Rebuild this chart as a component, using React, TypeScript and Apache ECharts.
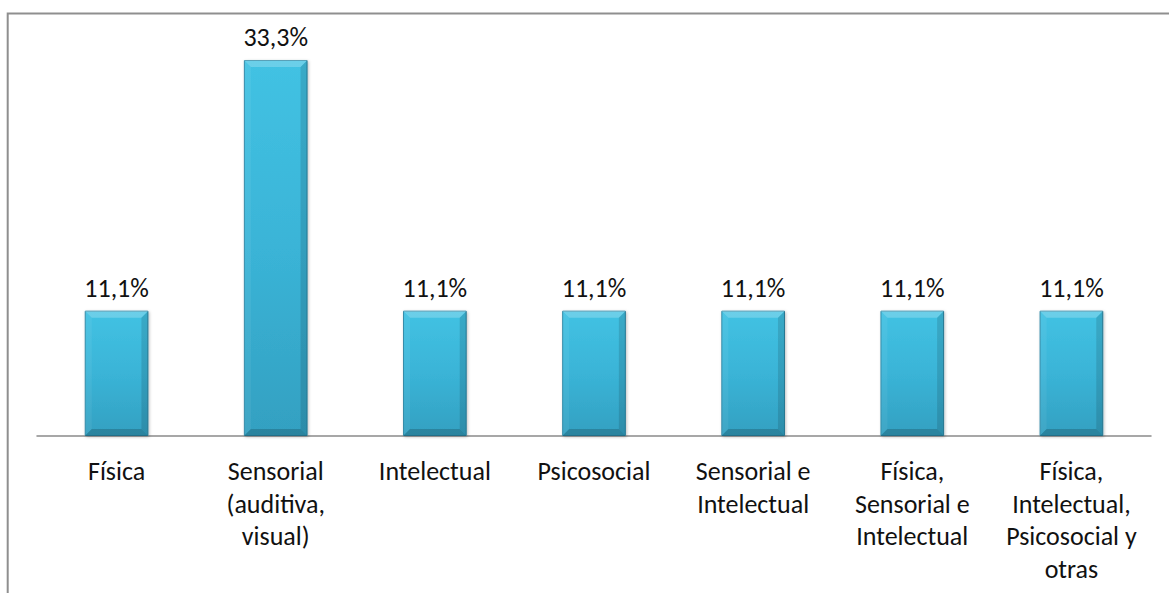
import React, { useEffect, useRef } from "react";
import * as echarts from "echarts";

const categories = [
  "Física",
  "Sensorial\n(auditiva,\nvisual)",
  "Intelectual",
  "Psicosocial",
  "Sensorial e\nIntelectual",
  "Física,\nSensorial e\nIntelectual",
  "Física,\nIntelectual,\nPsicosocial y\notras",
];
const values = [11.1, 33.3, 11.1, 11.1, 11.1, 11.1, 11.1];

const FONT = "Carlito, Calibri, Lato, 'Open Sans', sans-serif";

export default function App() {
  const ref = useRef<HTMLDivElement>(null);
  useEffect(() => {
    if (!ref.current) return;
    const chart = echarts.init(ref.current, null, { renderer: "svg" });
    chart.setOption({
      animation: false,
      backgroundColor: "#ffffff",
      textStyle: { fontFamily: FONT },
      graphic: [
        {
          type: "rect",
          shape: { x: 7.7, y: 13.5, width: 2000, height: 2000 },
          style: { fill: "none", stroke: "#8f8f8f", lineWidth: 2 },
          silent: true,
          z: 0,
        },
      ],
      grid: { left: 37, right: 18, top: 40.8, bottom: 157, containLabel: false },
      xAxis: {
        type: "category",
        data: categories,
        axisLine: { show: true, lineStyle: { color: "#8a8a8a", width: 1.5 } },
        axisTick: { show: false },
        axisLabel: {
          interval: 0,
          margin: 19,
          fontSize: 26,
          lineHeight: 32.5,
          color: "#111111",
          fontFamily: FONT,
          align: "center",
          verticalAlign: "top",
        },
      },
      yAxis: {
        type: "value",
        min: 0,
        max: 35,
        show: false,
        splitLine: { show: false },
      },
      series: [
        {
          type: "bar",
          data: values,
          barWidth: "40%",
          z: 2,
          itemStyle: {
            color: {
              type: "linear",
              x: 0,
              y: 0,
              x2: 0,
              y2: 1,
              colorStops: [
                { offset: 0, color: "#42c2e3" },
                { offset: 0.5, color: "#3ab4d7" },
                { offset: 1, color: "#33a0c1" },
              ],
            },
            borderColor: "#2b87a5",
            borderWidth: 1,
            shadowColor: "rgba(0,0,0,0.25)",
            shadowBlur: 3,
            shadowOffsetX: 1,
            shadowOffsetY: 1,
          },
          label: {
            show: true,
            position: "top",
            distance: 8,
            fontSize: 26,
            lineHeight: 30,
            color: "#111111",
            fontFamily: FONT,
            formatter: (p: any) => p.value.toFixed(1).replace(".", ",") + "%",
          },
        },
        {
          type: "custom",
          silent: true,
          z: 3,
          data: values.map((v, i) => [i, v]),
          renderItem: (params: any, api: any) => {
            const top = api.coord([api.value(0), api.value(1)]);
            const base = api.coord([api.value(0), 0]);
            const w = api.size([1, 0])[0] * 0.4;
            const l = top[0] - w / 2;
            const r = top[0] + w / 2;
            const t = top[1];
            const b = base[1];
            const e = 7;
            return {
              type: "group",
              children: [
                {
                  type: "polygon",
                  shape: { points: [[l, t], [r, t], [r - e, t + e], [l + e, t + e]] },
                  style: { fill: "rgba(255,255,255,0.22)" },
                },
                {
                  type: "polygon",
                  shape: { points: [[l, t], [l + e, t + e], [l + e, b - e], [l, b]] },
                  style: { fill: "rgba(255,255,255,0.06)" },
                },
                {
                  type: "polygon",
                  shape: { points: [[r, t], [r, b], [r - e, b - e], [r - e, t + e]] },
                  style: { fill: "rgba(0,0,0,0.12)" },
                },
                {
                  type: "polygon",
                  shape: { points: [[l, b], [r, b], [r - e, b - e], [l + e, b - e]] },
                  style: { fill: "rgba(0,0,0,0.18)" },
                },
              ],
            };
          },
        },
      ],
    });
    return () => chart.dispose();
  }, []);
  return (
    <div
      ref={ref}
      style={{ position: "fixed", left: 0, top: 0, width: 1169, height: 593 }}
    />
  );
}
